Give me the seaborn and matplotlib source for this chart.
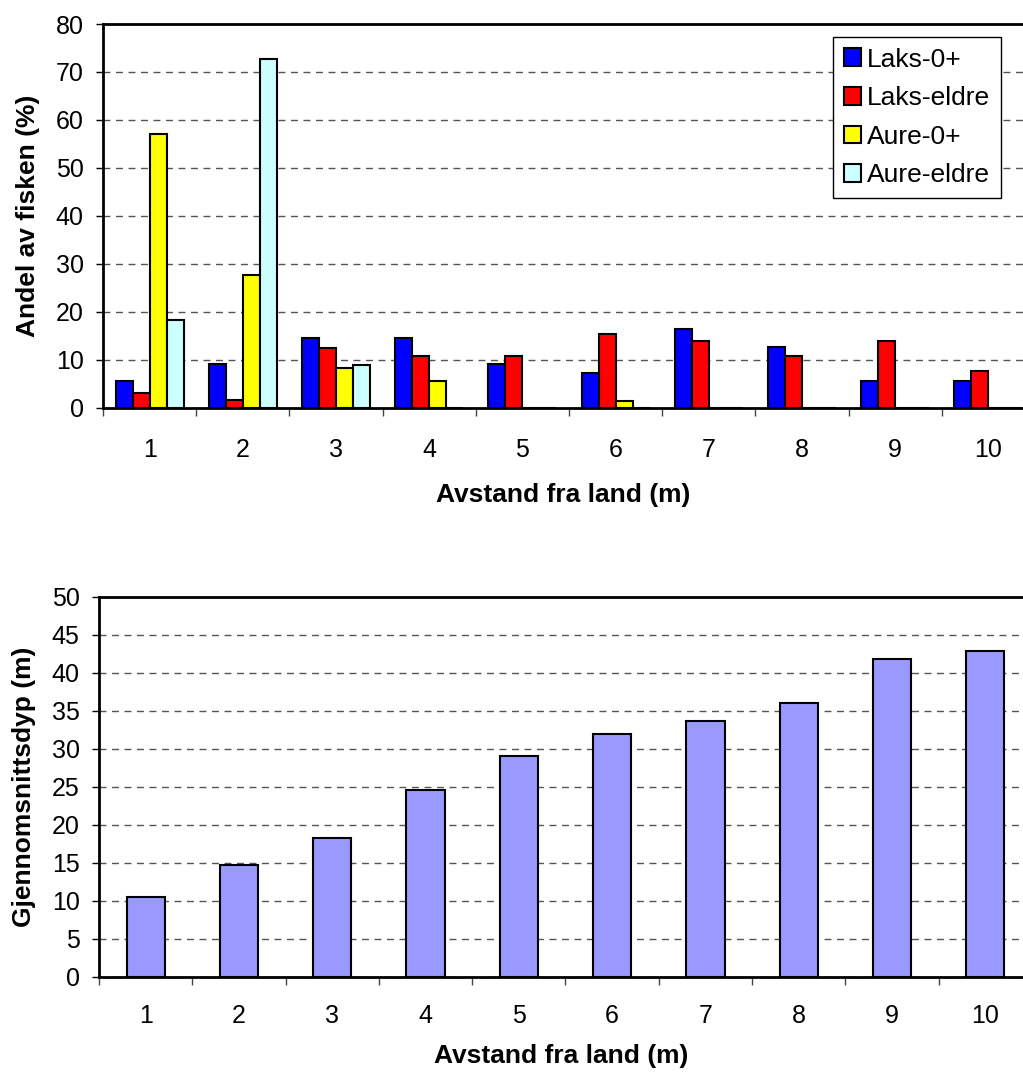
import numpy as np
import pandas as pd
import matplotlib
matplotlib.use("Agg")
import matplotlib.pyplot as plt
import seaborn as sns
from matplotlib.ticker import FixedLocator

distances = ["1", "2", "3", "4", "5", "6", "7", "8", "9", "10"]
series_names = ["Laks-0+", "Laks-eldre", "Aure-0+", "Aure-eldre"]
laks_0 = [5.5, 9.1, 14.5, 14.5, 9.1, 7.3, 16.4, 12.7, 5.5, 5.5]
laks_eldre = [3.1, 1.6, 12.4, 10.8, 10.8, 15.4, 13.9, 10.8, 13.9, 7.7]
aure_0 = [57.0, 27.7, 8.3, 5.5, 0, 1.5, 0, 0, 0, 0]
aure_eldre = [18.2, 72.6, 9.0, 0, 0, 0, 0, 0, 0, 0]
depth = [10.5, 14.7, 18.3, 24.6, 29.1, 31.9, 33.6, 36.0, 41.8, 42.9]

series_colors = ["#0000FF", "#FF0000", "#FFFF00", "#CCFFFF"]
depth_color = "#9999FF"

sns.set_theme(style="white")
plt.rcParams["font.family"] = ["Liberation Sans", "DejaVu Sans"]
plt.rcParams.update({"text.color": "black", "axes.labelcolor": "black",
                     "xtick.color": "black", "ytick.color": "black"})

rows = []
for name, vals in zip(series_names, [laks_0, laks_eldre, aure_0, aure_eldre]):
    for d, v in zip(distances, vals):
        rows.append({"dist": d, "val": v, "series": name})
df_top = pd.DataFrame(rows)
df_bot = pd.DataFrame({"dist": distances, "val": depth})

W, H = 1023, 1072
fig = plt.figure(figsize=(W / 100, H / 100), dpi=100)
ax1 = fig.add_axes([103 / W, 1 - 407.7 / H, (W - 103) / W, (407.7 - 24) / H])
ax2 = fig.add_axes([99 / W, 1 - 976.7 / H, (W - 99) / W, (976.7 - 596.7) / H])

sns.barplot(data=df_top, x="dist", y="val", hue="series", order=distances,
            hue_order=series_names, palette=series_colors, saturation=1,
            edgecolor="black", linewidth=1.5, width=0.73, gap=0, ax=ax1, zorder=3)
sns.barplot(data=df_bot, x="dist", y="val", order=distances, color=depth_color,
            saturation=1, edgecolor="black", linewidth=1.5, width=0.41, ax=ax2, zorder=3)

def style(ax, ymax, ystep, ylabel, xr, tpad, lpad):
    ax.set_ylim(0, ymax)
    ax.set_xlim(-0.5, xr)
    ax.set_yticks(np.arange(0, ymax + 1, ystep))
    ax.tick_params(axis="y", which="major", length=5, width=1, color="#000",
                   direction="out", left=True, labelsize=18, pad=9, labelcolor="black")
    ax.tick_params(axis="x", which="major", length=0, labelsize=18, pad=tpad,
                   labelcolor="black")
    ax.xaxis.set_minor_locator(FixedLocator(np.arange(-0.5, 10, 1)))
    ax.tick_params(axis="x", which="minor", length=6, width=1, color="#444",
                   direction="out", bottom=True)
    ax.yaxis.grid(True, linestyle=(0, (5, 4)), color="#555555", linewidth=1)
    ax.xaxis.grid(False)
    ax.set_axisbelow(True)
    for s in ["left", "bottom", "top"]:
        ax.spines[s].set_visible(True)
        ax.spines[s].set_color("black")
        ax.spines[s].set_linewidth(2)
    ax.spines["right"].set_visible(False)
    ax.set_ylabel(ylabel, fontsize=19, fontweight="bold", labelpad=11, color="black")
    ax.set_xlabel("Avstand fra land (m)", fontsize=19, fontweight="bold",
                  labelpad=lpad, color="black")

style(ax1, 80, 10, "Andel av fisken (%)", 9.371, 22, 15)
style(ax2, 50, 5, "Gjennomsnittsdyp (m)", 9.404, 20, 11)

leg = ax1.legend(loc="upper left", bbox_to_anchor=((833 - 103) / 920, 1 - 13 / 383.7),
                 fontsize=19, frameon=True, fancybox=False, edgecolor="black",
                 framealpha=1, borderpad=0.4, labelspacing=0.55, handlelength=0.65,
                 handleheight=0.65, handletextpad=0.25, borderaxespad=0)
leg.get_frame().set_linewidth(1)
for t in leg.get_texts():
    t.set_color("black")
for h in leg.legend_handles:
    h.set_edgecolor("black")
    h.set_linewidth(1.5)

fig.savefig("out.png", dpi=100)
